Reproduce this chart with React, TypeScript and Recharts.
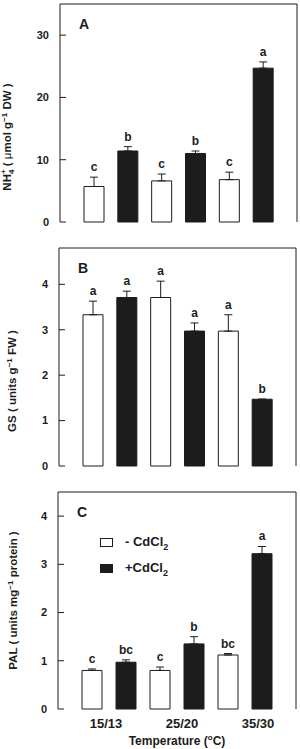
import React from 'react';
import { BarChart, Bar, XAxis, YAxis, Cell, ErrorBar, LabelList, Legend } from 'recharts';

// six bars per panel: (-Cd, +Cd) at each day/night temperature
const temps = ['15/13', '15/13', '25/20', '25/20', '35/30', '35/30'];
const withCd = [false, true, false, true, false, true];

const nh4Mean = [5.7, 11.4, 6.6, 11.0, 6.8, 24.7];
const nh4Err = [1.5, 0.7, 1.1, 0.4, 1.2, 1.0];
const nh4Sig = ['c', 'b', 'c', 'b', 'c', 'a'];
const nh4Ticks = [0, 10, 20, 30];

const gsMean = [3.33, 3.71, 3.71, 2.97, 2.97, 1.47];
const gsErr = [0.3, 0.14, 0.36, 0.18, 0.36, 0];
const gsSig = ['a', 'a', 'a', 'a', 'a', 'b'];
const gsTicks = [0, 1, 2, 3, 4];

const palMean = [0.8, 0.97, 0.8, 1.35, 1.12, 3.22];
const palErr = [0.03, 0.05, 0.07, 0.15, 0.03, 0.15];
const palSig = ['c', 'bc', 'c', 'b', 'bc', 'a'];
const palTicks = [0, 1, 2, 3, 4];

const legendLabels = ['- CdCl', '+CdCl'];

const FONT = '"Liberation Sans", Arial, Helvetica, sans-serif';
const INK = '#1c1c1c';

const buildRows = (mean: number[], err: number[]) =>
  temps.map((t, i) => ({ idx: String(i), temp: t, v: mean[i], e: [0, err[i]] }));

const sigLabel = (sig: string[], err: number[]) => (p: any) => {
  const { x, y, width, height, value, index } = p;
  const perUnit = value ? height / value : 0;
  const top = y - err[index] * perUnit;
  return (
    <text x={x + width / 2} y={top - 6} textAnchor="middle" fontSize={12} fontWeight="bold" fill={INK} fontFamily={FONT}>
      {sig[index]}
    </text>
  );
};

type PanelProps = {
  top: number;
  height: number;
  margin: { top: number; right: number; bottom: number; left: number };
  axisWidth: number;
  mean: number[];
  err: number[];
  sig: string[];
  ticks: number[];
  max: number;
  letter: string;
  yTitle: React.ReactNode;
  titleX: number;
  titleShift: number;
  showTemps?: boolean;
  showLegend?: boolean;
};

function Panel(props: PanelProps) {
  const rows = buildRows(props.mean, props.err);
  const pad = { left: 17, right: 17 };
  const tickStyle = { fontSize: 11, fontWeight: 'bold', fill: INK, fontFamily: FONT };

  const axisLabel = (p: any) => {
    const vb = p.viewBox;
    const cy = vb.y + vb.height / 2 + props.titleShift;
    return (
      <g fontFamily={FONT} fill={INK}>
        <text
          x={props.titleX}
          y={cy}
          transform={`rotate(-90, ${props.titleX}, ${cy})`}
          textAnchor="middle"
          fontSize={11.5}
          fontWeight="bold"
        >
          {props.yTitle}
        </text>
        <text x={vb.x + vb.width + 19} y={vb.y + 25} fontSize={14} fontWeight="bold">
          {props.letter}
        </text>
      </g>
    );
  };

  return (
    <div style={{ position: 'absolute', left: 0, top: props.top }}>
      <BarChart width={300} height={props.height} data={rows} margin={props.margin} barSize={20}>
        <XAxis
          xAxisId="bar"
          dataKey="idx"
          padding={pad}
          height={0}
          tick={false}
          tickLine={false}
          axisLine={{ stroke: INK }}
        />
        {props.showTemps && (
          <XAxis
            xAxisId="lab"
            dataKey="temp"
            allowDuplicatedCategory={false}
            padding={{ left: 10, right: 0 }}
            height={40}
            axisLine={false}
            tickLine={false}
            tickMargin={4}
            tick={{ fontSize: 13, fontWeight: 'bold', fill: INK, fontFamily: FONT }}
            label={{
              content: (p: any) => (
                <text
                  x={p.viewBox.x + p.viewBox.width / 2}
                  y={p.viewBox.y + 36}
                  textAnchor="middle"
                  fontSize={12}
                  fontWeight="bold"
                  fill={INK}
                  fontFamily={FONT}
                >
                  Temperature (<tspan fontSize={8} dy={-5}>o</tspan>
                  <tspan dy={5}>C)</tspan>
                </text>
              ),
            }}
          />
        )}
        <XAxis
          xAxisId="top"
          dataKey="idx"
          orientation="top"
          mirror
          padding={pad}
          tick={false}
          tickSize={3}
          axisLine={{ stroke: INK }}
          tickLine={{ stroke: INK }}
        />
        <YAxis
          yAxisId="l"
          width={props.axisWidth}
          domain={[0, props.max]}
          ticks={props.ticks}
          tickSize={-6}
          tickMargin={17}
          tick={tickStyle}
          axisLine={{ stroke: INK }}
          tickLine={{ stroke: INK }}
          label={{ content: axisLabel }}
        />
        <YAxis
          yAxisId="r"
          orientation="right"
          mirror
          domain={[0, props.max]}
          ticks={props.ticks}
          tick={false}
          tickSize={6}
          axisLine={{ stroke: INK }}
          tickLine={{ stroke: INK }}
        />
        {props.showLegend && (
          <Legend
            layout="vertical"
            align="center"
            verticalAlign="middle"
            wrapperStyle={{ left: 100, top: 56, width: 120 }}
            content={() => (
              <div style={{ fontFamily: FONT, fontWeight: 'bold', fontSize: 13, color: INK }}>
                {legendLabels.map((l, i) => (
                  <div key={l} style={{ display: 'flex', alignItems: 'center', height: 13, marginBottom: 13 }}>
                    <span
                      style={{
                        display: 'inline-block',
                        width: 11,
                        height: 7,
                        border: `1px solid ${INK}`,
                        background: i ? INK : '#fff',
                        marginRight: 12,
                      }}
                    />
                    <span>
                      {l}
                      <sub style={{ fontSize: 9 }}>2</sub>
                    </span>
                  </div>
                ))}
              </div>
            )}
          />
        )}
        <Bar xAxisId="bar" yAxisId="l" dataKey="v" stroke={INK} strokeWidth={1} isAnimationActive={false}>
          {rows.map((r, i) => (
            <Cell key={r.idx} fill={withCd[i] ? INK : '#fff'} />
          ))}
          <ErrorBar dataKey="e" direction="y" width={4} stroke={INK} strokeWidth={1} isAnimationActive={false} />
          <LabelList dataKey="v" content={sigLabel(props.sig, props.err)} />
        </Bar>
      </BarChart>
    </div>
  );
}

export default function App() {
  return (
    <div style={{ position: 'absolute', left: 0, top: 0, width: 300, height: 749, background: '#fff' }}>
      <Panel
        top={0}
        height={230}
        margin={{ top: 4, right: 3, bottom: 8, left: 0 }}
        axisWidth={60}
        mean={nh4Mean}
        err={nh4Err}
        sig={nh4Sig}
        ticks={nh4Ticks}
        max={35}
        letter="A"
        titleX={11}
        titleShift={24}
        yTitle={
          <>
            NH<tspan fontSize={8} dy={3}>4</tspan>
            <tspan fontSize={8} dx={-4.5} dy={-8}>+</tspan>
            <tspan dy={5}> ( </tspan>
            <tspan fontWeight="normal">μ</tspan>mol g<tspan fontSize={8} dy={-4}>−1</tspan>
            <tspan dy={4}> DW )</tspan>
          </>
        }
      />
      <Panel
        top={240}
        height={234}
        margin={{ top: 8, right: 4, bottom: 8, left: 0 }}
        axisWidth={59}
        mean={gsMean}
        err={gsErr}
        sig={gsSig}
        ticks={gsTicks}
        max={4.8}
        letter="B"
        titleX={16}
        titleShift={24}
        yTitle={
          <>
            GS ( units g<tspan fontSize={8} dy={-4}>−1</tspan>
            <tspan dy={4}> FW )</tspan>
          </>
        }
      />
      <Panel
        top={480}
        height={269}
        margin={{ top: 12, right: 4, bottom: 0, left: 0 }}
        axisWidth={58}
        mean={palMean}
        err={palErr}
        sig={palSig}
        ticks={palTicks}
        max={4.5}
        letter="C"
        titleX={17}
        titleShift={0}
        showTemps
        showLegend
        yTitle={
          <>
            PAL ( units mg<tspan fontSize={8} dy={-4}>−1</tspan>
            <tspan dy={4}> protein )</tspan>
          </>
        }
      />
    </div>
  );
}
